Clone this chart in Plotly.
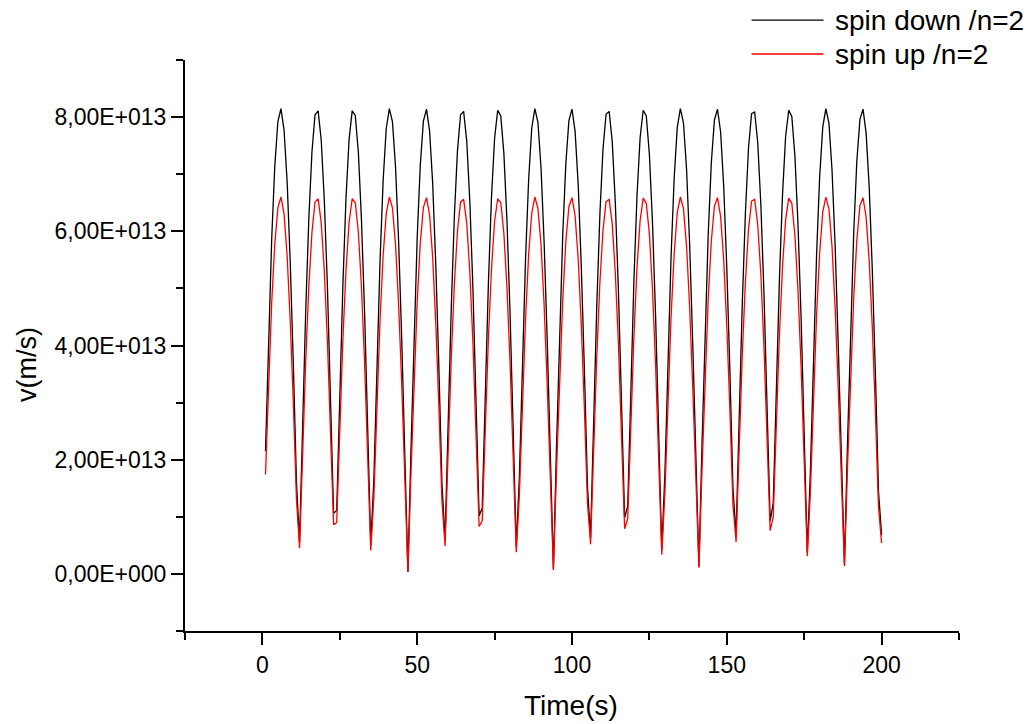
import plotly.graph_objects as go

# Values in units of 1e13 m/s, sampled at Time = 1..200 s
time_s = list(range(1, 201))

spin_down = [
    2.15, 4.15, 5.86, 7.14, 7.92, 8.15, 7.77, 6.86, 5.45, 3.66, 1.61,
    0.56, 2.68, 4.62, 6.23, 7.39, 8.04, 8.11, 7.60, 6.54, 5.03, 3.16, 1.06,
    1.11, 3.20, 5.07, 6.58, 7.61, 8.11, 8.03, 7.38, 6.20, 4.59, 2.64, 0.51,
    1.66, 3.71, 5.49, 6.89, 7.80, 8.15, 7.92, 7.13, 5.83, 4.12, 2.11,
    0.04, 2.19, 4.19, 5.89, 7.16, 7.93, 8.14, 7.76, 6.84, 5.42, 3.62, 1.57,
    0.60, 2.72, 4.66, 6.26, 7.41, 8.04, 8.10, 7.58, 6.52, 5.00, 3.12, 1.02,
    1.15, 3.24, 5.10, 6.60, 7.63, 8.12, 8.02, 7.36, 6.18, 4.55, 2.60, 0.47,
    1.70, 3.75, 5.53, 6.91, 7.81, 8.15, 7.91, 7.11, 5.80, 4.08, 2.07,
    0.09, 2.24, 4.22, 5.92, 7.18, 7.94, 8.14, 7.75, 6.82, 5.39, 3.58, 1.53,
    0.64, 2.76, 4.69, 6.28, 7.43, 8.05, 8.10, 7.57, 6.49, 4.96, 3.08, 0.98,
    1.19, 3.28, 5.14, 6.63, 7.64, 8.12, 8.02, 7.34, 6.15, 4.52, 2.56, 0.42,
    1.74, 3.78, 5.56, 6.93, 7.82, 8.15, 7.90, 7.09, 5.77, 4.04, 2.03,
    0.13, 2.28, 4.26, 5.95, 7.20, 7.95, 8.14, 7.74, 6.79, 5.36, 3.55, 1.48,
    0.69, 2.81, 4.73, 6.31, 7.45, 8.06, 8.09, 7.55, 6.46, 4.93, 3.04, 0.93,
    1.24, 3.32, 5.17, 6.65, 7.66, 8.12, 8.01, 7.32, 6.12, 4.48, 2.52, 0.38,
    1.78, 3.82, 5.59, 6.96, 7.83, 8.15, 7.89, 7.06, 5.74, 4.00, 1.99,
    0.17, 2.32, 4.30, 5.98, 7.23, 7.96, 8.14, 7.72, 6.77, 5.32, 3.51, 1.44,
    0.68,
]

spin_up = [
    1.74, 3.36, 4.75, 5.78, 6.41, 6.60, 6.30, 5.56, 4.42, 2.97, 1.31,
    0.45, 2.17, 3.74, 5.04, 5.98, 6.51, 6.57, 6.15, 5.30, 4.07, 2.56, 0.86,
    0.90, 2.59, 4.11, 5.32, 6.16, 6.57, 6.50, 5.98, 5.02, 3.71, 2.14, 0.41,
    1.34, 3.00, 4.45, 5.58, 6.31, 6.60, 6.41, 5.77, 4.72, 3.33, 1.71,
    0.04, 1.78, 3.39, 4.77, 5.80, 6.42, 6.59, 6.29, 5.54, 4.39, 2.93, 1.27,
    0.49, 2.21, 3.77, 5.07, 6.00, 6.51, 6.56, 6.14, 5.28, 4.05, 2.53, 0.83,
    0.93, 2.63, 4.13, 5.35, 6.18, 6.57, 6.50, 5.96, 5.00, 3.69, 2.11, 0.38,
    1.38, 3.03, 4.47, 5.60, 6.32, 6.60, 6.40, 5.76, 4.70, 3.30, 1.68,
    0.07, 1.81, 3.42, 4.79, 5.82, 6.43, 6.59, 6.27, 5.52, 4.36, 2.90, 1.24,
    0.52, 2.24, 3.80, 5.09, 6.01, 6.52, 6.56, 6.13, 5.26, 4.02, 2.50, 0.79,
    0.97, 2.66, 4.16, 5.37, 6.19, 6.58, 6.49, 5.95, 4.98, 3.66, 2.07, 0.34,
    1.41, 3.07, 4.50, 5.61, 6.33, 6.60, 6.40, 5.74, 4.67, 3.27, 1.64,
    0.11, 1.84, 3.45, 4.82, 5.83, 6.44, 6.59, 6.26, 5.50, 4.34, 2.87, 1.20,
    0.56, 2.27, 3.83, 5.11, 6.03, 6.53, 6.56, 6.11, 5.24, 3.99, 2.46, 0.76,
    1.00, 2.69, 4.19, 5.39, 6.20, 6.58, 6.49, 5.93, 4.96, 3.63, 2.04, 0.31,
    1.44, 3.10, 4.53, 5.63, 6.34, 6.60, 6.39, 5.72, 4.65, 3.24, 1.61,
    0.14, 1.88, 3.48, 4.84, 5.85, 6.45, 6.59, 6.25, 5.48, 4.31, 2.84, 1.17,
    0.54,
]

series_names = ["spin down /n=2", "spin up /n=2"]
y_tick_values = [0, 2e13, 4e13, 6e13, 8e13]
y_tick_labels = ["0,00E+000", "2,00E+013", "4,00E+013", "6,00E+013", "8,00E+013"]
x_tick_values = [0, 50, 100, 150, 200]

SCALE = 1e13
FONT = "Liberation Sans, Arial, sans-serif"

fig = go.Figure()
fig.add_trace(go.Scatter(x=time_s, y=[v * SCALE for v in spin_down], mode="lines",
                         name=series_names[0], line=dict(color="#000000", width=1.3),
                         showlegend=False))
fig.add_trace(go.Scatter(x=time_s, y=[v * SCALE for v in spin_up], mode="lines",
                         name=series_names[1], line=dict(color="#FF0000", width=1.3),
                         showlegend=False))

fig.update_layout(
    width=1032, height=724,
    margin=dict(l=185, r=73, t=60, b=93),
    paper_bgcolor="white", plot_bgcolor="white",
    font=dict(family=FONT, size=23, color="black"),
)
fig.update_xaxes(
    range=[-25, 225], showgrid=False, zeroline=False,
    showline=True, linecolor="black", linewidth=2,
    ticks="outside", ticklen=12, tickwidth=2, tickcolor="black",
    tickvals=x_tick_values, tickfont=dict(size=23),
    minor=dict(ticks="outside", ticklen=7, tickwidth=2, tickcolor="black",
               tick0=-25, dtick=25, showgrid=False),
)
fig.update_yaxes(
    range=[-1e13, 9e13], showgrid=False, zeroline=False,
    showline=True, linecolor="black", linewidth=2,
    ticks="outside", ticklen=12, tickwidth=2, tickcolor="black",
    tickvals=y_tick_values, ticktext=y_tick_labels, tickfont=dict(size=23),
    minor=dict(ticks="outside", ticklen=7, tickwidth=2, tickcolor="black",
               tick0=-1e13, dtick=1e13, showgrid=False),
)

# axis titles
fig.add_annotation(text="Time(s)", xref="paper", yref="paper", x=0.4987, y=-0.1296,
                   showarrow=False, font=dict(size=28), xanchor="center", yanchor="middle")
fig.add_annotation(text="v(m/s)", xref="paper", yref="paper", x=-0.2041, y=0.4658,
                   showarrow=False, font=dict(size=27), textangle=-90,
                   xanchor="center", yanchor="middle")

# legend drawn to match the long sample lines of the original
legend_rows = [(1.0700, "#000000"), (1.0105, "#FF0000")]
for (ypos, col), name in zip(legend_rows, series_names):
    fig.add_shape(type="line", xref="paper", yref="paper", x0=0.732, x1=0.825,
                  y0=ypos, y1=ypos, line=dict(color=col, width=1.3))
    fig.add_annotation(text=name, xref="paper", yref="paper", x=0.837, y=ypos,
                       showarrow=False, font=dict(size=28), xanchor="left", yanchor="middle")

fig.write_html("out.html")
